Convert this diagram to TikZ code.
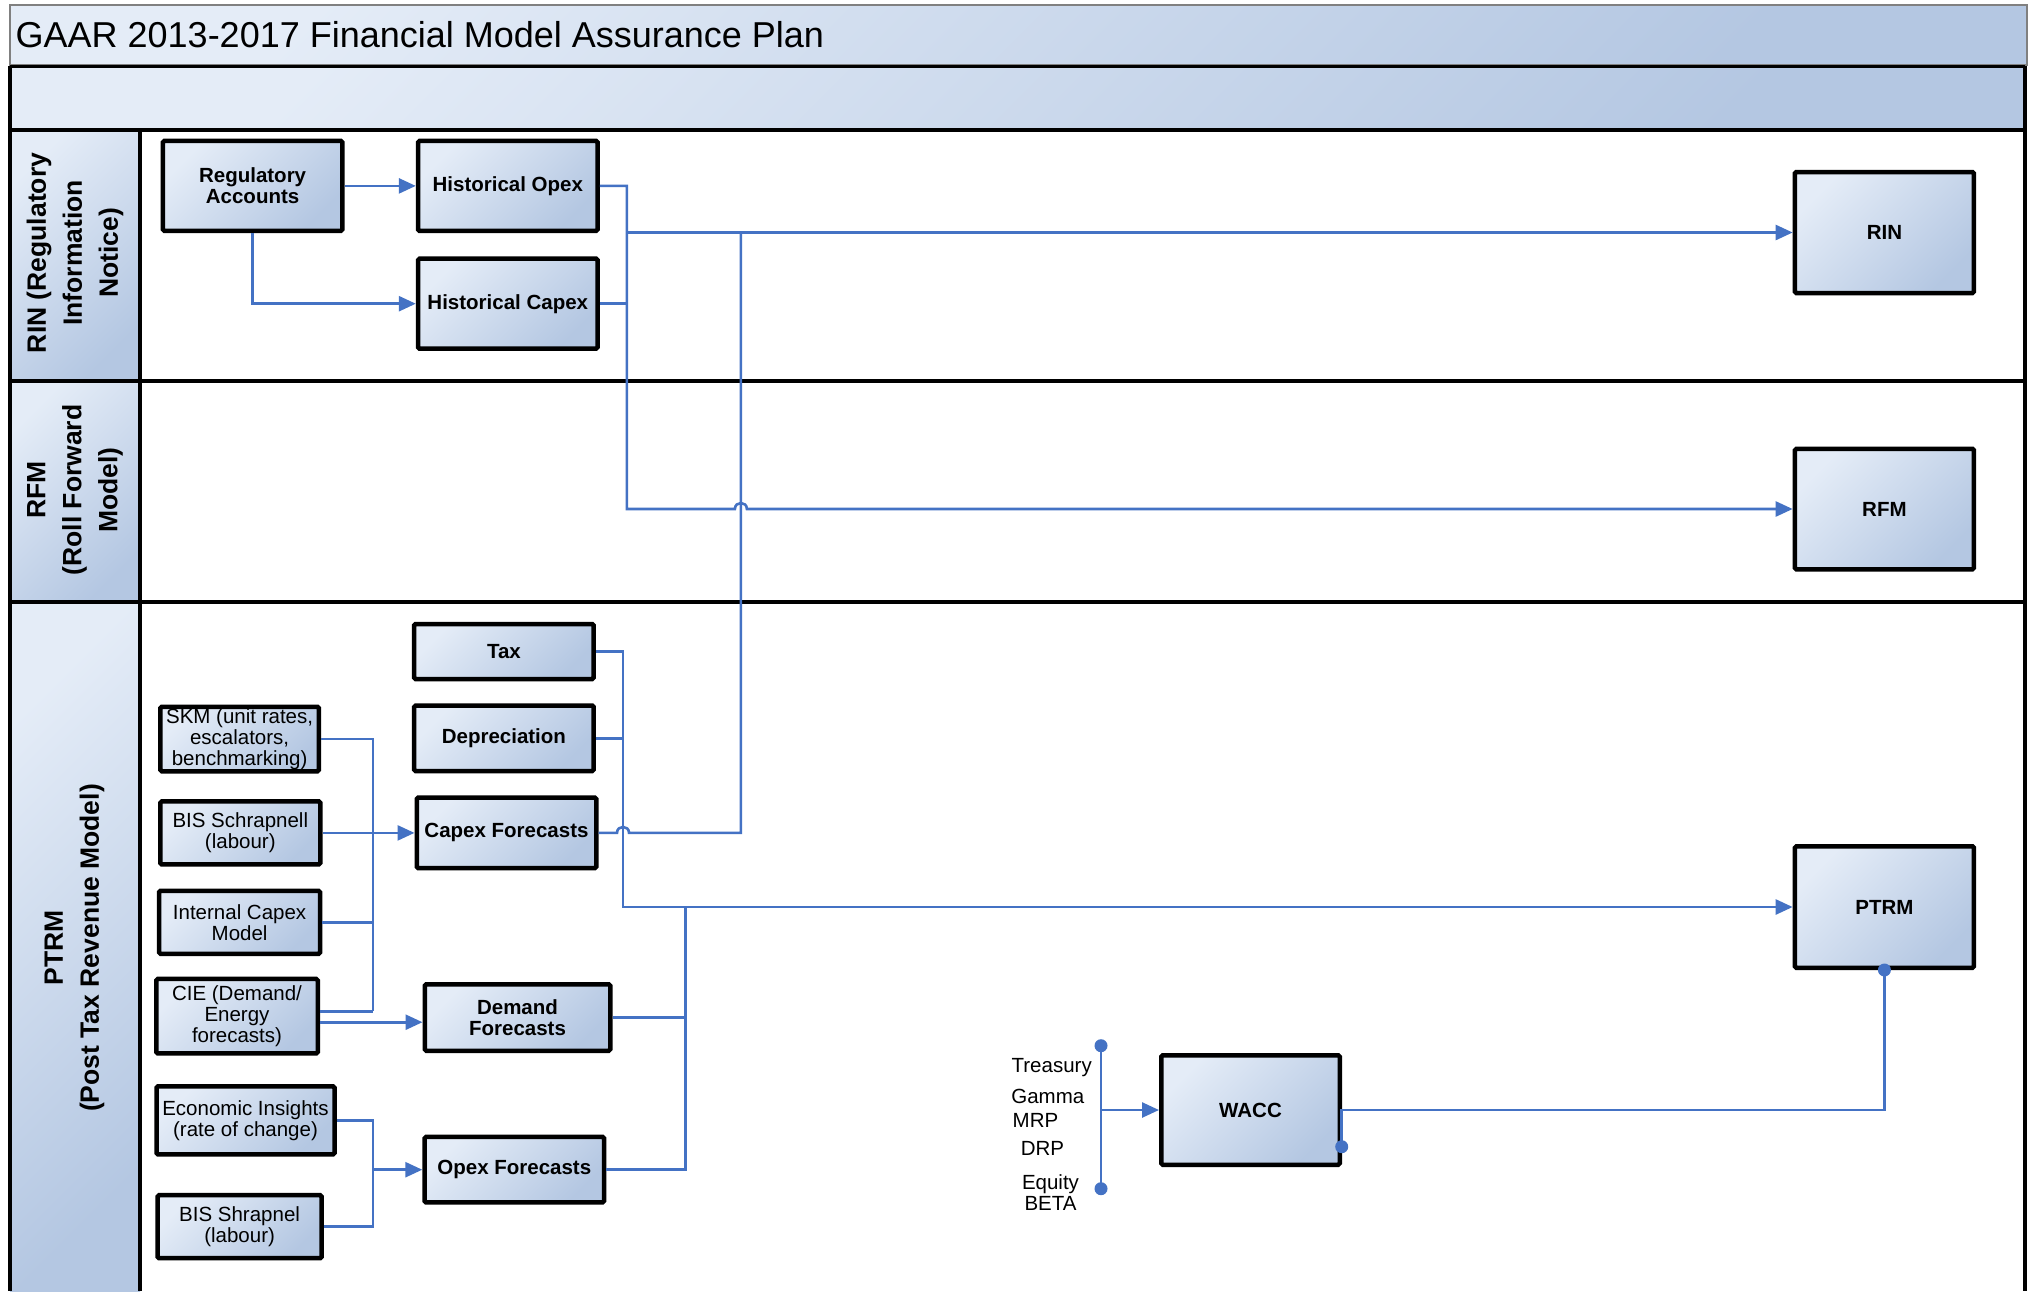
\documentclass[tikz,border=0pt]{standalone}
\usepackage{fontspec}
\setmainfont{Liberation Sans}
\usetikzlibrary{arrows.meta}
\definecolor{lnc}{HTML}{4472C4}
\definecolor{bl}{HTML}{E4ECF7}
\definecolor{bd}{HTML}{B4C7E2}
\begin{document}
\begin{tikzpicture}[x=1pt,y=-1pt,
  bx/.style={draw=black, line width=4.5pt, rounded corners=1.5pt, left color=bl, right color=bd, shading angle=45, align=center, inner sep=1pt, font=\fontsize{20.5}{21.5}\selectfont\bfseries},
  rx/.style={bx, font=\fontsize{20.5}{21}\selectfont},
  conn/.style={draw=lnc, line width=2.6pt},
  arr/.style={conn, -{Triangle[length=17pt,width=15pt]}},
  lanelbl/.style={rotate=90, align=center, font=\fontsize{26.5}{36}\selectfont\bfseries},
  hdr/.style={left color=bl, right color=bd, shading angle=45},
  frm/.style={draw=black, line width=4pt},
  dot/.style={circle, fill=lnc, inner sep=0pt, minimum size=13pt},
  lbl/.style={align=center, inner sep=0pt, font=\fontsize{20.5}{20.5}\selectfont}
]
\useasboundingbox (0,0) rectangle (2031,1291);
\fill[white] (0,0) rectangle (2031,1291);
% title and blank bar
\shade[hdr] (10,5) rectangle (2027,65);
\draw[gray, line width=1.5pt] (10,5) rectangle (2027,65);
\shade[hdr] (10,66) rectangle (2025,129.5);
% lane headers
\shade[hdr] (10,129.5) rectangle (140,380.8);
\shade[hdr] (10,380.8) rectangle (140,602.3);
\shade[hdr] (10,602.3) rectangle (140,1291);
% frame
\draw[frm] (10.4,66) -- (10.4,1291);
\draw[frm] (2024.5,66) -- (2024.5,1291);
\draw[draw=black, line width=3pt] (10,66) -- (2025,66);
\draw[frm] (10,129.5) -- (2025,129.5);
\draw[frm] (10,380.8) -- (2025,380.8);
\draw[frm] (10,602.3) -- (2025,602.3);
\draw[frm] (140,129.5) -- (140,1291);

\node[anchor=west, inner sep=0pt, font=\fontsize{36}{40}\selectfont] (title) at (15.5,35) {GAAR 2013-2017 Financial Model Assurance Plan};

\node[lanelbl] (l1) at (75,253) {RIN (Regulatory\\Information\\Notice)};
\node[lanelbl] (l2) at (75,490) {RFM\\(Roll Forward\\Model)};
\node[lanelbl] (l3) at (74.5,948) {PTRM\\(Post Tax Revenue Model)};

% boxes
\node[bx, minimum width=179.5pt, minimum height=90pt] (regacc) at (252.6,185.9) {Regulatory\\Accounts};
\node[bx, minimum width=179.5pt, minimum height=90pt] (hopex) at (507.8,185.9) {Historical Opex};
\node[bx, minimum width=179.5pt, minimum height=90pt] (hcapex) at (507.8,303.7) {Historical Capex};
\node[bx, minimum width=179pt, minimum height=121pt] (rin) at (1884.4,232.5) {RIN};
\node[bx, minimum width=179pt, minimum height=120.5pt] (rfm) at (1884.4,509) {RFM};
\node[bx, minimum width=179pt, minimum height=121.5pt] (ptrm) at (1884.4,907) {PTRM};
\node[bx, minimum width=179.5pt, minimum height=55pt] (tax) at (503.9,651.5) {Tax};
\node[bx, minimum width=179.5pt, minimum height=65.5pt] (dep) at (503.9,738.3) {Depreciation};
\node[bx, minimum width=179.5pt, minimum height=70.5pt] (capfc) at (506.5,832.9) {Capex Forecasts};
\node[bx, minimum width=185.5pt, minimum height=66.5pt] (demfc) at (517.5,1017.5) {Demand\\Forecasts};
\node[bx, minimum width=179.5pt, minimum height=65.5pt] (opfc) at (514.3,1169.7) {Opex Forecasts};
\node[bx, minimum width=178.5pt, minimum height=109.5pt] (wacc) at (1250.5,1110) {WACC};

\node[rx, minimum width=158.5pt, minimum height=64.5pt] (skm) at (239.6,739) {SKM (unit rates,\\escalators,\\benchmarking)};
\node[rx, minimum width=160pt, minimum height=63pt] (bis1) at (240.3,832.9) {BIS Schrapnell\\(labour)};
\node[rx, minimum width=161pt, minimum height=63pt] (icm) at (239.6,922.3) {Internal Capex\\Model};
\node[rx, minimum width=161.5pt, minimum height=74.5pt] (cie) at (237,1016.2) {CIE (Demand/\\Energy\\forecasts)};
\node[rx, minimum width=178pt, minimum height=68pt] (econ) at (245.5,1120.4) {Economic Insights\\(rate of change)};
\node[rx, minimum width=164pt, minimum height=63pt] (bis2) at (239.6,1226.7) {BIS Shrapnel\\(labour)};

% WACC input labels
\node[lbl] (tre) at (1051.7,1068) {Treasury};
\node[lbl] (gam) at (1047.8,1096.7) {Gamma};
\node[lbl] (mrp) at (1035.5,1120) {MRP};
\node[lbl] (drp) at (1042.5,1148) {DRP};
\node[lbl] (eqb) at (1050.5,1192.7) {Equity\\BETA};

% junction coordinates
\coordinate (j1) at (626.9,232.5);
\coordinate (j2) at (740.9,232.5);
\coordinate (jc) at (373,832.9);
\coordinate (jo) at (373,1169.7);
\coordinate (wj) at (1101,1110);

% RIN lane connectors
\draw[arr] (regacc.east) -- (hopex.west);
\draw[arr] (regacc.south) |- (hcapex.west);
\draw[arr] (hopex.east) -- (626.9,185.9) -- (626.9,509) -- (734.9,509) .. controls (734.9,501) and (746.9,501) .. (746.9,509) -- (rfm.west);
\draw[conn] (hcapex.east) -- (626.9,303.7);
\draw[arr] (j1) -- (rin.west);
\draw[conn] (capfc.east) -- (617,832.9) .. controls (617,824.9) and (629,824.9) .. (629,832.9) -- (740.9,832.9) -- (j2);

% PTRM connectors
\draw[arr] (tax.east) -- (623,651.5) -- (623,907) -- (ptrm.west);
\draw[conn] (dep.east) -- (623,738.3);
\draw[conn] (demfc.east) -- (685.2,1017.5);
\draw[conn] (opfc.east) -- (685.2,1169.7) -- (685.2,907);

% left inputs
\draw[conn] (skm.east) -- (373,739) -- (373,1011.2);
\draw[arr] (bis1.east) -- (capfc.west);
\draw[conn] (icm.east) -- (373,922.3);
\draw[conn] ([yshift=5pt]cie.east) -- (373,1011.2);
\draw[arr] ([yshift=-6pt]cie.east) -- ([yshift=-6pt]cie.east -| demfc.west);
\draw[conn] (econ.east) -- (373,1120.4) -- (373,1226.7) -- (bis2.east);
\draw[arr] (jo) -- (opfc.west);

% WACC
\node[dot] (d1) at (1101,1045.7) {};
\node[dot] (d2) at (1101,1188.7) {};
\draw[conn] (d1.center) -- (d2.center);
\draw[arr] (wj) -- (wacc.west);
\node[dot] (d3) at (1341.7,1146.7) {};
\node[dot] (d4) at (ptrm.south) {};
\draw[conn] (d3.center) -- (1341.7,1110) -- (1884.4,1110) -- (d4.center);
\end{tikzpicture}
\end{document}
